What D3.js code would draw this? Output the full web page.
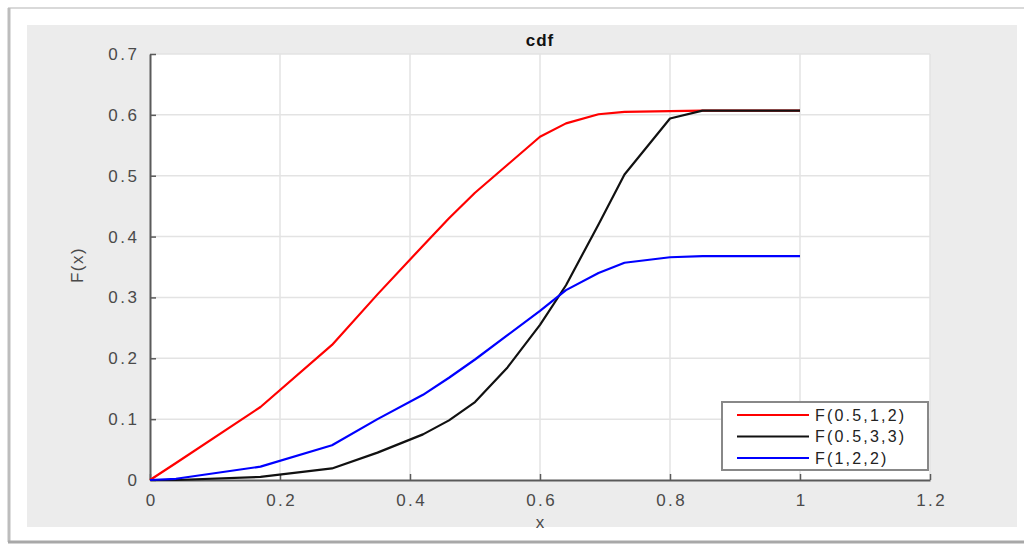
<!DOCTYPE html>
<html>
<head>
<meta charset="utf-8">
<script src="https://cdn.jsdelivr.net/npm/d3@7"></script>
<style>
  body { margin: 0; background: #fff; }
  svg { display: block; font-family: "Liberation Sans", Arial, sans-serif; }
</style>
</head>
<body>
<div id="chart"></div>
<script>
// sample points (shared x grid)
const xs = [0, 0.04, 0.17, 0.28, 0.35, 0.42, 0.46, 0.5, 0.55, 0.6, 0.64, 0.69, 0.73, 0.8, 0.85, 1];
const redY = [0, 0.028, 0.12, 0.222, 0.305, 0.385, 0.43, 0.472, 0.518, 0.564, 0.586, 0.601, 0.605, 0.606, 0.607, 0.607];
const blackY = [0, 0, 0.005, 0.019, 0.045, 0.075, 0.098, 0.128, 0.185, 0.255, 0.32, 0.42, 0.502, 0.594, 0.607, 0.607];
const blueY = [0, 0.002, 0.022, 0.057, 0.1, 0.14, 0.168, 0.198, 0.238, 0.278, 0.312, 0.34, 0.357, 0.366, 0.368, 0.368];

const seriesNames = ['F(0.5,1,2)', 'F(0.5,3,3)', 'F(1,2,2)'];
const seriesColors = ['#ff0000', '#111111', '#0000ff'];
const xTicks = [0, 0.2, 0.4, 0.6, 0.8, 1, 1.2];
const yTicks = [0, 0.1, 0.2, 0.3, 0.4, 0.5, 0.6, 0.7];

const width = 1024, height = 545;
const plotL = 150, plotR = 930, plotT = 54, plotB = 480;

const svg = d3.select('#chart').append('svg')
    .attr('width', width)
    .attr('height', height);

// outer frame + grey figure panel
svg.append('line').attr('x1', 8).attr('x2', width).attr('y1', 8).attr('y2', 8)
    .attr('stroke', '#d9d9d9').attr('stroke-width', 2);
svg.append('line').attr('x1', 9).attr('x2', 9).attr('y1', 8).attr('y2', 542)
    .attr('stroke', '#bdbdbd').attr('stroke-width', 3);
svg.append('line').attr('x1', 8).attr('x2', width).attr('y1', 542).attr('y2', 542)
    .attr('stroke', '#a8a8a8').attr('stroke-width', 3);
svg.append('rect').attr('x', 27).attr('y', 25).attr('width', 990).attr('height', 502)
    .attr('fill', '#ececec');

const xScale = d3.scaleLinear().domain([0, 1.2]).range([plotL, plotR]);
const yScale = d3.scaleLinear().domain([0, 0.7]).range([plotB, plotT]);

svg.append('rect')
    .attr('x', plotL).attr('y', plotT)
    .attr('width', plotR - plotL).attr('height', plotB - plotT)
    .attr('fill', '#fff');

// grid
svg.append('g').selectAll('line').data(xTicks.slice(1)).join('line')
    .attr('x1', d => xScale(d)).attr('x2', d => xScale(d))
    .attr('y1', plotT).attr('y2', plotB)
    .attr('stroke', '#e3e3e3').attr('stroke-width', 1.5);
svg.append('g').selectAll('line').data(yTicks.slice(1)).join('line')
    .attr('x1', plotL).attr('x2', plotR)
    .attr('y1', d => yScale(d)).attr('y2', d => yScale(d))
    .attr('stroke', '#e3e3e3').attr('stroke-width', 1.5);

// axes (ticks inward)
const xAxis = svg.append('g')
    .attr('transform', `translate(0,${plotB})`)
    .call(d3.axisBottom(xScale).tickValues(xTicks).tickSize(-6).tickPadding(14)
        .tickFormat(d3.format('~g')).tickSizeOuter(0));
const yAxis = svg.append('g')
    .attr('transform', `translate(${plotL},0)`)
    .call(d3.axisLeft(yScale).tickValues(yTicks).tickSize(-6).tickPadding(13)
        .tickFormat(d3.format('~g')).tickSizeOuter(0));
[xAxis, yAxis].forEach(g => {
    g.select('.domain').attr('stroke', '#5a5a5a').attr('stroke-width', 2);
    g.selectAll('.tick line').attr('stroke', '#5a5a5a').attr('stroke-width', 1.5);
    g.selectAll('.tick text').attr('fill', '#4a4a4a')
        .style('font-size', '17px').style('letter-spacing', '2.5px');
});
// letter-spacing adds a trailing gap, nudge labels back
xAxis.selectAll('.tick text').attr('dx', '1.2px');
yAxis.selectAll('.tick text').attr('dx', '2.5px');

// curves
const allY = [redY, blackY, blueY];
const line = d3.line().x(d => xScale(d[0])).y(d => yScale(d[1]));
allY.forEach((ys, i) => {
    svg.append('path')
        .datum(xs.map((x, j) => [x, ys[j]]))
        .attr('d', line)
        .attr('fill', 'none')
        .attr('stroke', seriesColors[i])
        .attr('stroke-width', 2.2)
        .attr('stroke-linejoin', 'round');
});

// titles
svg.append('text').attr('x', 540).attr('y', 46).attr('text-anchor', 'middle')
    .style('font-size', '17px').style('font-weight', 'bold').style('letter-spacing', '1px')
    .attr('fill', '#111')
    .text('cdf');
svg.append('text').attr('x', 540).attr('y', 528).attr('text-anchor', 'middle')
    .style('font-size', '17px').attr('fill', '#4a4a4a')
    .text('x');
svg.append('text')
    .attr('transform', 'translate(83,265) rotate(-90)')
    .attr('text-anchor', 'middle')
    .style('font-size', '17px').style('letter-spacing', '1.5px').attr('fill', '#4a4a4a')
    .text('F(x)');

// legend
const legend = svg.append('g');
legend.append('rect')
    .attr('x', 722).attr('y', 402).attr('width', 206).attr('height', 68)
    .attr('fill', '#fff').attr('stroke', '#888').attr('stroke-width', 2);
seriesNames.forEach((name, i) => {
    const y = 415 + i * 21.5;
    legend.append('line')
        .attr('x1', 737).attr('x2', 809).attr('y1', y).attr('y2', y)
        .attr('stroke', seriesColors[i]).attr('stroke-width', 2.2);
    legend.append('text')
        .attr('x', 815).attr('y', y).attr('dy', '0.35em')
        .style('font-size', '16px').style('letter-spacing', '2.2px')
        .attr('fill', '#222')
        .text(name);
});
</script>
</body>
</html>
